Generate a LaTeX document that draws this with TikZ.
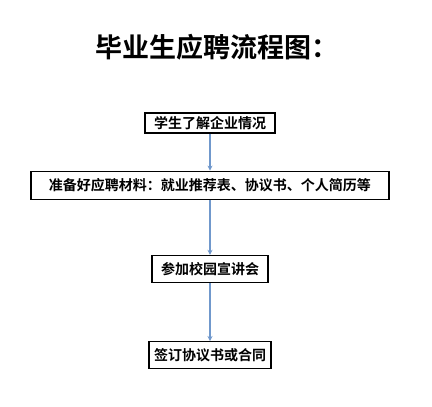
\documentclass[tikz,border=0pt]{standalone}
\usepackage{fontspec}
\usepackage{tikz}
\usetikzlibrary{arrows.meta, positioning}
\newfontfamily\cjkbold{Noto Sans CJK SC Bold}
\definecolor{arrowblue}{RGB}{112,152,204}

\begin{document}
\begin{tikzpicture}[x=1bp, y=1bp, >={Stealth[length=5bp, width=5bp]}, line width=1.2bp]
\tikzset{
  stepbox/.style={draw, rectangle, inner sep=0pt, font=\cjkbold\fontsize{14bp}{16bp}\selectfont},
  flow/.style={->, draw=arrowblue, line width=1.5bp},
}
\useasboundingbox (0,0) rectangle (432,-407);

% Title
\node (title) at (217,-47) {\cjkbold\fontsize{27bp}{30bp}\selectfont 毕业生应聘流程图：};

% Steps of the flow
\node (learn) [stepbox, minimum width=130bp, minimum height=20bp] at (210,-123) {学生了解企业情况};
\node (prep) [stepbox, minimum width=358bp, minimum height=28bp, below=37bp of learn] {准备好应聘材料：就业推荐表、协议书、个人简历等};
\node (talk) [stepbox, minimum width=116bp, minimum height=27bp, below=55bp of prep] {参加校园宣讲会};
\node (sign) [stepbox, minimum width=122bp, minimum height=27bp, below=58bp of talk] {签订协议书或合同};

% Connectors
\draw[flow] (learn) -- (prep);
\draw[flow] (prep) -- (talk);
\draw[flow] (talk) -- (sign);
\end{tikzpicture}
\end{document}
